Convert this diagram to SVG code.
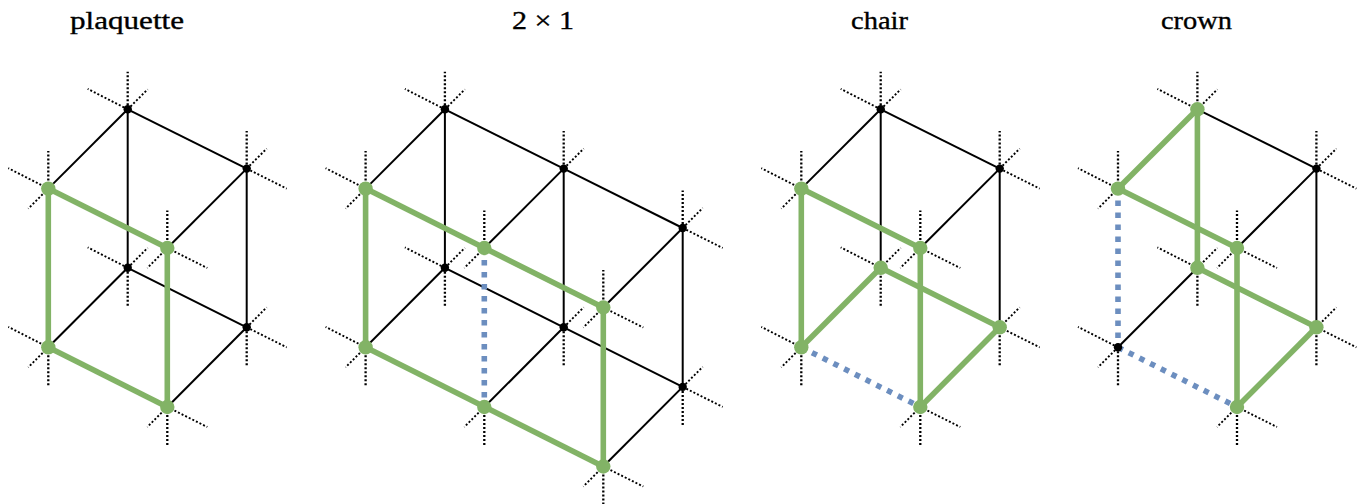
<svg xmlns="http://www.w3.org/2000/svg" width="1364" height="504" viewBox="0 0 1364 504">
<style>
.t{font-family:"Liberation Serif","DejaVu Serif",serif;font-size:26px;fill:#000;stroke:#000;stroke-width:.35px;text-anchor:start}
.k{stroke:#000;stroke-width:2;fill:none}
.g{stroke:#82b366;stroke-width:5.6;fill:none}
.b{stroke:#6c8ebf;stroke-width:5.6;stroke-dasharray:5.4 6.6;fill:none}
.s{stroke:#000;stroke-width:1.9;stroke-dasharray:2 2;fill:none}
.v{stroke:#000;stroke-width:2.3;stroke-dasharray:2 2;fill:none}
.nk{fill:#000}
.ng{fill:#82b366}
</style>
<defs>
<path id="U" class="v" d="M0 0V-37.5"/>
<path id="D" class="v" d="M0 0V40"/>
<path id="UL" class="s" d="M0 0L-40 -20.4"/>
<path id="UR" class="s" d="M0 0L20 -20"/>
<path id="DR" class="s" d="M0 0L40 20"/>
<path id="DL" class="s" d="M0 0L-20 20"/>
<circle id="K" class="nk" r="4.2"/>
<circle id="G" class="ng" r="7.2"/>
</defs>
<rect width="1364" height="504" fill="#fff"/>
<g id="titles">
<text class="t" x="70" y="29" textLength="114" lengthAdjust="spacingAndGlyphs">plaquette</text>
<text class="t" x="512" y="29" textLength="62" lengthAdjust="spacingAndGlyphs">2 × 1</text>
<text class="t" x="851" y="29" textLength="57" lengthAdjust="spacingAndGlyphs">chair</text>
<text class="t" x="1161" y="29" textLength="71" lengthAdjust="spacingAndGlyphs">crown</text>
</g>
<g id="connectors">
<g id="c1">
<line class="k" x1="127.7" y1="109.3" x2="48.3" y2="188.6"/>
<line class="k" x1="127.7" y1="109.3" x2="127.7" y2="267.8"/>
<line class="k" x1="127.7" y1="109.3" x2="246.7" y2="168.6"/>
<line class="k" x1="246.7" y1="168.6" x2="167.3" y2="248"/>
<line class="k" x1="246.7" y1="168.6" x2="246.7" y2="327.3"/>
<line class="k" x1="127.7" y1="267.8" x2="48.3" y2="347.3"/>
<line class="k" x1="127.7" y1="267.8" x2="246.7" y2="327.3"/>
<line class="k" x1="246.7" y1="327.3" x2="167.3" y2="407"/>
<line class="g" x1="48.3" y1="188.6" x2="167.3" y2="248"/>
<line class="g" x1="48.3" y1="188.6" x2="48.3" y2="347.3"/>
<line class="g" x1="167.3" y1="248" x2="167.3" y2="407"/>
<line class="g" x1="48.3" y1="347.3" x2="167.3" y2="407"/>
</g>
<g id="c2">
<line class="k" x1="444.9" y1="109.3" x2="365.6" y2="188.6"/>
<line class="k" x1="444.9" y1="109.3" x2="444.9" y2="267.8"/>
<line class="k" x1="444.9" y1="109.3" x2="563.7" y2="168.6"/>
<line class="k" x1="563.7" y1="168.6" x2="682.7" y2="228"/>
<line class="k" x1="563.7" y1="168.6" x2="484.3" y2="248"/>
<line class="k" x1="563.7" y1="168.6" x2="563.7" y2="327.3"/>
<line class="k" x1="682.7" y1="228" x2="603.3" y2="307.5"/>
<line class="k" x1="682.7" y1="228" x2="682.7" y2="386.9"/>
<line class="k" x1="444.9" y1="267.8" x2="365.6" y2="347.3"/>
<line class="k" x1="444.9" y1="267.8" x2="563.7" y2="327.3"/>
<line class="k" x1="563.7" y1="327.3" x2="682.7" y2="386.9"/>
<line class="k" x1="563.7" y1="327.3" x2="484.3" y2="407"/>
<line class="k" x1="682.7" y1="386.9" x2="603.3" y2="466.5"/>
<line class="b" x1="484.3" y1="248" x2="484.3" y2="407"/>
<line class="g" x1="365.6" y1="188.6" x2="603.3" y2="307.5"/>
<line class="g" x1="365.6" y1="188.6" x2="365.6" y2="347.3"/>
<line class="g" x1="365.6" y1="347.3" x2="603.3" y2="466.5"/>
<line class="g" x1="603.3" y1="307.5" x2="603.3" y2="466.5"/>
</g>
<g id="c3">
<line class="k" x1="880.7" y1="109.3" x2="801.3" y2="188.6"/>
<line class="k" x1="880.7" y1="109.3" x2="880.7" y2="267.8"/>
<line class="k" x1="880.7" y1="109.3" x2="999.7" y2="168.6"/>
<line class="k" x1="999.7" y1="168.6" x2="920.3" y2="248"/>
<line class="k" x1="999.7" y1="168.6" x2="999.7" y2="327.3"/>
<line class="b" x1="801.3" y1="347.3" x2="920.3" y2="407"/>
<line class="g" x1="801.3" y1="188.6" x2="920.3" y2="248"/>
<line class="g" x1="801.3" y1="188.6" x2="801.3" y2="347.3"/>
<line class="g" x1="801.3" y1="347.3" x2="880.7" y2="267.8"/>
<line class="g" x1="880.7" y1="267.8" x2="999.7" y2="327.3"/>
<line class="g" x1="999.7" y1="327.3" x2="920.3" y2="407"/>
<line class="g" x1="920.3" y1="248" x2="920.3" y2="407"/>
</g>
<g id="c4">
<line class="k" x1="1197.4" y1="109.3" x2="1316.4" y2="168.6"/>
<line class="k" x1="1316.4" y1="168.6" x2="1237" y2="248"/>
<line class="k" x1="1316.4" y1="168.6" x2="1316.4" y2="327.3"/>
<line class="k" x1="1197.4" y1="267.8" x2="1118" y2="347.3"/>
<line class="b" x1="1118" y1="188.6" x2="1118" y2="347.3"/>
<line class="b" x1="1118" y1="347.3" x2="1237" y2="407"/>
<line class="g" x1="1197.4" y1="109.3" x2="1118" y2="188.6"/>
<line class="g" x1="1197.4" y1="109.3" x2="1197.4" y2="267.8"/>
<line class="g" x1="1118" y1="188.6" x2="1237" y2="248"/>
<line class="g" x1="1237" y1="248" x2="1237" y2="407"/>
<line class="g" x1="1197.4" y1="267.8" x2="1316.4" y2="327.3"/>
<line class="g" x1="1316.4" y1="327.3" x2="1237" y2="407"/>
</g>
</g>
<g id="n1-t" transform="translate(127.7 109.3)"><use href="#U"/><use href="#UL"/><use href="#UR"/><use href="#K"/></g>
<g id="n1-r" transform="translate(246.7 168.6)"><use href="#U"/><use href="#UR"/><use href="#DR"/><use href="#K"/></g>
<g id="n1-l" transform="translate(48.3 188.6)"><use href="#U"/><use href="#UL"/><use href="#DL"/><use href="#G"/></g>
<g id="n1-f" transform="translate(167.3 248)"><use href="#U"/><use href="#DR"/><use href="#DL"/><use href="#G"/></g>
<g id="n1-c" transform="translate(127.7 267.8)"><use href="#UL"/><use href="#UR"/><use href="#D"/><use href="#K"/></g>
<g id="n1-bl" transform="translate(48.3 347.3)"><use href="#UL"/><use href="#DL"/><use href="#D"/><use href="#G"/></g>
<g id="n1-br" transform="translate(246.7 327.3)"><use href="#UR"/><use href="#DR"/><use href="#D"/><use href="#K"/></g>
<g id="n1-bf" transform="translate(167.3 407)"><use href="#DR"/><use href="#DL"/><use href="#D"/><use href="#G"/></g>

<g id="n2-a" transform="translate(444.9 109.3)"><use href="#U"/><use href="#UL"/><use href="#UR"/><use href="#K"/></g>
<g id="n2-b" transform="translate(563.7 168.6)"><use href="#U"/><use href="#UR"/><use href="#K"/></g>
<g id="n2-c" transform="translate(682.7 228)"><use href="#U"/><use href="#UR"/><use href="#DR"/><use href="#K"/></g>
<g id="n2-d" transform="translate(365.6 188.6)"><use href="#U"/><use href="#UL"/><use href="#DL"/><use href="#G"/></g>
<g id="n2-e" transform="translate(484.3 248)"><use href="#U"/><use href="#DL"/><use href="#G"/></g>
<g id="n2-f" transform="translate(603.3 307.5)"><use href="#U"/><use href="#DL"/><use href="#DR"/><use href="#G"/></g>
<g id="n2-g" transform="translate(444.9 267.8)"><use href="#UL"/><use href="#UR"/><use href="#D"/><use href="#K"/></g>
<g id="n2-h" transform="translate(563.7 327.3)"><use href="#UR"/><use href="#D"/><use href="#K"/></g>
<g id="n2-i" transform="translate(682.7 386.9)"><use href="#UR"/><use href="#DR"/><use href="#D"/><use href="#K"/></g>
<g id="n2-j" transform="translate(365.6 347.3)"><use href="#UL"/><use href="#DL"/><use href="#D"/><use href="#G"/></g>
<g id="n2-k" transform="translate(484.3 407)"><use href="#DL"/><use href="#D"/><use href="#G"/></g>
<g id="n2-l" transform="translate(603.3 466.5)"><use href="#DL"/><use href="#DR"/><use href="#D"/><use href="#G"/></g>

<g id="n3-t" transform="translate(880.7 109.3)"><use href="#U"/><use href="#UL"/><use href="#UR"/><use href="#K"/></g>
<g id="n3-r" transform="translate(999.7 168.6)"><use href="#U"/><use href="#UR"/><use href="#DR"/><use href="#K"/></g>
<g id="n3-l" transform="translate(801.3 188.6)"><use href="#U"/><use href="#UL"/><use href="#DL"/><use href="#G"/></g>
<g id="n3-f" transform="translate(920.3 248)"><use href="#U"/><use href="#DR"/><use href="#DL"/><use href="#G"/></g>
<g id="n3-c" transform="translate(880.7 267.8)"><use href="#UL"/><use href="#UR"/><use href="#D"/><use href="#G"/></g>
<g id="n3-bl" transform="translate(801.3 347.3)"><use href="#UL"/><use href="#DL"/><use href="#D"/><use href="#G"/></g>
<g id="n3-br" transform="translate(999.7 327.3)"><use href="#UR"/><use href="#DR"/><use href="#D"/><use href="#G"/></g>
<g id="n3-bf" transform="translate(920.3 407)"><use href="#DR"/><use href="#DL"/><use href="#D"/><use href="#G"/></g>

<g id="n4-t" transform="translate(1197.4 109.3)"><use href="#U"/><use href="#UL"/><use href="#UR"/><use href="#G"/></g>
<g id="n4-r" transform="translate(1316.4 168.6)"><use href="#U"/><use href="#UR"/><use href="#DR"/><use href="#K"/></g>
<g id="n4-l" transform="translate(1118 188.6)"><use href="#U"/><use href="#UL"/><use href="#DL"/><use href="#G"/></g>
<g id="n4-f" transform="translate(1237 248)"><use href="#U"/><use href="#DR"/><use href="#DL"/><use href="#G"/></g>
<g id="n4-c" transform="translate(1197.4 267.8)"><use href="#UL"/><use href="#UR"/><use href="#D"/><use href="#G"/></g>
<g id="n4-bl" transform="translate(1118 347.3)"><use href="#UL"/><use href="#DL"/><use href="#D"/><use href="#K"/></g>
<g id="n4-br" transform="translate(1316.4 327.3)"><use href="#UR"/><use href="#DR"/><use href="#D"/><use href="#G"/></g>
<g id="n4-bf" transform="translate(1237 407)"><use href="#DR"/><use href="#DL"/><use href="#D"/><use href="#G"/></g>
</svg>
